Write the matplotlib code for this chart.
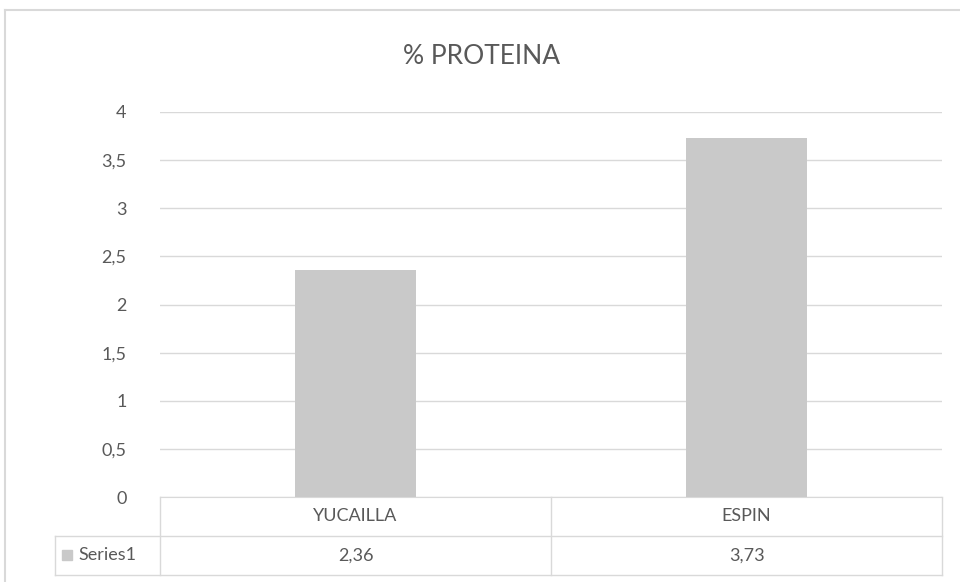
import matplotlib.pyplot as plt
from matplotlib.lines import Line2D
from matplotlib.patches import Rectangle
from matplotlib.ticker import FuncFormatter, MultipleLocator

categories = ['YUCAILLA', 'ESPIN']
values = [2.36, 3.73]
series_name = 'Series1'

plt.rcParams['font.family'] = ['Lato', 'DejaVu Sans']
text_col = '#595959'
grid_col = '#d9d9d9'
bar_col = '#c9c9c9'

fig = plt.figure(figsize=(9.6, 5.82), dpi=100)
ax = fig.add_axes([160 / 960, 85 / 582, 782 / 960, 385 / 582])

x = range(len(categories))
ax.bar(x, values, width=0.31, color=bar_col, zorder=2)
ax.set_xlim(-0.5, len(categories) - 0.5)
ax.set_ylim(0, 4)
ax.yaxis.set_major_locator(MultipleLocator(0.5))
ax.yaxis.set_major_formatter(FuncFormatter(lambda v, p: ('%g' % v).replace('.', ',')))
ax.grid(axis='y', color=grid_col, linewidth=1, zorder=0)
ax.tick_params(axis='y', length=0, pad=24, labelsize=13, labelcolor=text_col)
ax.set_xticks([])
for s in ['top', 'right', 'left']:
    ax.spines[s].set_visible(False)
ax.spines['bottom'].set_color(grid_col)

fig.text(482 / 960, 1 - 57 / 582, '% PROTEINA', ha='center', va='center', fontsize=19, color=text_col)

# data table under the axis
tr = ax.get_xaxis_transform()
row_h = 0.101
left = -0.769
n = len(categories)
ax.add_line(Line2D([left, n - 0.5], [-row_h, -row_h], transform=tr, color=grid_col, lw=1, clip_on=False))
ax.add_line(Line2D([left, n - 0.5], [-2 * row_h, -2 * row_h], transform=tr, color=grid_col, lw=1, clip_on=False))
ax.add_line(Line2D([left, left], [-row_h, -2 * row_h], transform=tr, color=grid_col, lw=1, clip_on=False))
for b in range(n + 1):
    ax.add_line(Line2D([b - 0.5, b - 0.5], [0, -2 * row_h], transform=tr, color=grid_col, lw=1, clip_on=False))
for i, (c, v) in enumerate(zip(categories, values)):
    ax.text(i, -row_h / 2, c, transform=tr, ha='center', va='center', fontsize=13, color=text_col)
    ax.text(i, -1.5 * row_h, ('%.2f' % v).replace('.', ','), transform=tr, ha='center', va='center',
            fontsize=13, color=text_col)
ax.add_patch(Rectangle((left + 0.018, -1.5 * row_h - 0.013), 0.025, 0.026, transform=tr,
                       color=bar_col, clip_on=False))
ax.text(left + 0.06, -1.5 * row_h, series_name, transform=tr, ha='left', va='center',
        fontsize=13, color=text_col)

# chart frame
fig.add_artist(Line2D([5 / 960, 1], [1 - 10 / 582, 1 - 10 / 582], color='#d9d9d9', lw=1.5))
fig.add_artist(Line2D([5 / 960, 5 / 960], [0, 1 - 10 / 582], color='#d9d9d9', lw=1.5))

fig.savefig('out.png', dpi=100)
